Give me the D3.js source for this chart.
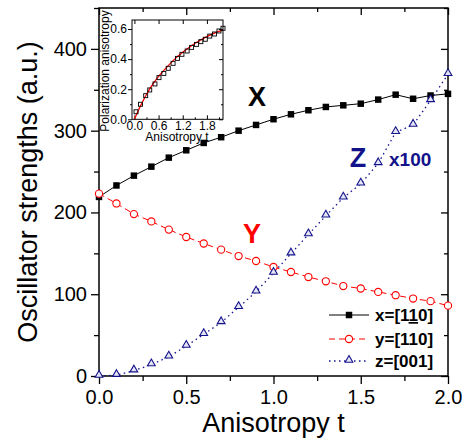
<!DOCTYPE html>
<html><head><meta charset="utf-8">
<script src="https://cdn.jsdelivr.net/npm/d3@7"></script>
<style>
html,body{margin:0;padding:0;background:#fff;}
svg{display:block;font-family:"Liberation Sans",Arial,sans-serif;}
</style></head>
<body><svg id="c" width="472" height="443"></svg>
<script>
// ---- data ----
const tValues = [0,0.1,0.2,0.3,0.4,0.5,0.6,0.7,0.8,0.9,1.0,1.1,1.2,1.3,1.4,1.5,1.6,1.7,1.8,1.9,2.0];
const xSeries = [219,233,245,256,267,276,285,292,300,307,314,320,325,329,331,333,338,344,339,343,345];
const ySeries = [223,211,198,189,179,170,162,154.5,146.7,140.6,133.3,127.2,121,115.8,110,107,102.8,98.8,94.7,91.5,86];
const zSeries = [0,1,6.5,14,23.5,36.6,51,65.5,84,103,126,149.6,173,196,218,235,260,298,307,337,369];
const xTicks = [0,0.5,1.0,1.5,2.0];
const xTickLabels = ["0.0","0.5","1.0","1.5","2.0"];
const yTicks = [0,100,200,300,400];
const legendLabels = ["x=[1", "y=[110]", "z=[001]"];
// inset
const insetT = [0.04,0.15,0.28,0.38,0.51,0.61,0.73,0.84,0.96,1.07,1.18,1.31,1.42,1.54,1.65,1.76,1.87,1.99,2.10,2.20];
const insetV = [0.05,0.10,0.157,0.195,0.235,0.277,0.305,0.339,0.372,0.405,0.432,0.454,0.478,0.498,0.516,0.532,0.553,0.567,0.587,0.605];
const fitT = [0,0.1,0.2,0.3,0.4,0.6,0.8,1.0,1.2,1.4,1.6,1.8,2.0,2.2];
const fitV = [0,0.06,0.115,0.165,0.21,0.285,0.345,0.40,0.445,0.485,0.52,0.55,0.575,0.595];
const insetXTicks = [0,0.6,1.2,1.8];
const insetXTickLabels = ["0.0","0.6","1.2","1.8"];
const insetYTicks = [0,0.2,0.4,0.6];
const insetYTickLabels = ["0.0","0.2","0.4","0.6"];

const svg = d3.select("#c");
const L=99, R=448, T=8, B=376;
const x = d3.scaleLinear().domain([0,2]).range([L,R]);
const y = d3.scaleLinear().domain([0,450]).range([B,T]);

const fmt = (labels, ticks) => (d)=> labels[ticks.indexOf(d)] ?? "";
function styleAxis(g, fs){
  g.select(".domain").remove();
  g.selectAll("line").attr("stroke","#000").attr("stroke-width",1.3);
  g.selectAll("text").attr("font-size",fs).attr("fill","#000").attr("font-family","Liberation Sans, Arial, sans-serif");
}
const minorX = d3.range(0,2.01,0.25).filter(v=>Math.abs(v*2-Math.round(v*2))>0.01);
const minorY = [50,150,250,350,450];
let g = svg.append("g").attr("transform",`translate(0,${B})`)
  .call(d3.axisBottom(x).tickValues(xTicks).tickFormat(fmt(xTickLabels,xTicks)).tickSize(8).tickPadding(6));
styleAxis(g,20);
svg.append("g").attr("transform",`translate(0,${B})`).call(d3.axisBottom(x).tickValues(minorX).tickFormat("").tickSize(5)).call(s=>styleAxis(s,0));
svg.append("g").attr("transform",`translate(0,${T})`).call(d3.axisBottom(x).tickValues(xTicks).tickFormat("").tickSize(7)).call(s=>styleAxis(s,0));
svg.append("g").attr("transform",`translate(0,${T})`).call(d3.axisBottom(x).tickValues(minorX).tickFormat("").tickSize(4)).call(s=>styleAxis(s,0));
g = svg.append("g").attr("transform",`translate(${L},0)`)
  .call(d3.axisLeft(y).tickValues(yTicks).tickFormat(d3.format("d")).tickSize(8).tickPadding(4));
styleAxis(g,20);
svg.append("g").attr("transform",`translate(${L},0)`).call(d3.axisLeft(y).tickValues(minorY).tickFormat("").tickSize(5)).call(s=>styleAxis(s,0));
svg.append("g").attr("transform",`translate(${R},0)`).call(d3.axisLeft(y).tickValues(yTicks).tickFormat("").tickSize(7)).call(s=>styleAxis(s,0));
svg.append("g").attr("transform",`translate(${R},0)`).call(d3.axisLeft(y).tickValues(minorY).tickFormat("").tickSize(4)).call(s=>styleAxis(s,0));
svg.append("rect").attr("x",L).attr("y",T).attr("width",R-L).attr("height",B-T)
  .attr("fill","none").attr("stroke","#000").attr("stroke-width",1.5);

svg.append("text").attr("x",(L+R)/2).attr("y",432).attr("text-anchor","middle")
  .attr("font-size",27).text("Anisotropy t");
svg.append("text").attr("transform",`translate(37,${(T+B)/2}) rotate(-90)`).attr("text-anchor","middle")
  .attr("font-size",27).text("Oscillator strengths (a.u.)");

const NAVY = "#12128a";
const line = (vals)=> d3.line().x((d,i)=>x(tValues[i])).y(d=>y(d))(vals);
svg.append("path").attr("d",line(xSeries)).attr("fill","none").attr("stroke","#000").attr("stroke-width",1);
svg.append("path").attr("d",line(ySeries)).attr("fill","none").attr("stroke","#ff0000").attr("stroke-width",1).attr("stroke-dasharray","6,4");
svg.append("path").attr("d",line(zSeries)).attr("fill","none").attr("stroke",NAVY).attr("stroke-width",1.3).attr("stroke-dasharray","1.5,3.5");

const sq = d3.symbol().type(d3.symbolSquare).size(42);
const tri = d3.symbol().type(d3.symbolTriangle).size(26);
svg.append("g").selectAll("path").data(xSeries).join("path")
  .attr("d",sq).attr("transform",(d,i)=>`translate(${x(tValues[i])},${y(d)})`).attr("fill","#000");
svg.append("g").selectAll("circle").data(ySeries).join("circle")
  .attr("cx",(d,i)=>x(tValues[i])).attr("cy",d=>y(d)).attr("r",3.6)
  .attr("fill","#fff").attr("stroke","#ff0000").attr("stroke-width",1.1);
svg.append("g").selectAll("path").data(zSeries).join("path")
  .attr("d",tri).attr("transform",(d,i)=>`translate(${x(tValues[i])},${y(d)-1})`)
  .attr("fill","#e4e4f4").attr("stroke",NAVY).attr("stroke-width",1.1);

svg.append("text").attr("x",257).attr("y",106).attr("text-anchor","middle").attr("font-size",27).attr("font-weight","bold").text("X");
svg.append("text").attr("x",252).attr("y",243).attr("text-anchor","middle").attr("font-size",27).attr("font-weight","bold").attr("fill","#ff0000").text("Y");
svg.append("text").attr("x",358).attr("y",167).attr("text-anchor","middle").attr("font-size",27).attr("font-weight","bold").attr("fill",NAVY).text("Z");
svg.append("text").attr("x",389).attr("y",166).attr("font-size",19).attr("font-weight","bold").attr("fill",NAVY).text("x100");

const legY = [315,339,361];
const lg = svg.append("g");
lg.append("line").attr("x1",329).attr("x2",369).attr("y1",legY[0]).attr("y2",legY[0]).attr("stroke","#000").attr("stroke-width",1);
lg.append("path").attr("d",sq).attr("transform",`translate(349,${legY[0]})`).attr("fill","#000");
lg.append("line").attr("x1",329).attr("x2",369).attr("y1",legY[1]).attr("y2",legY[1]).attr("stroke","#ff0000").attr("stroke-width",1).attr("stroke-dasharray","6,4");
lg.append("circle").attr("cx",349).attr("cy",legY[1]).attr("r",3.6).attr("fill","#fff").attr("stroke","#ff0000").attr("stroke-width",1.1);
lg.append("line").attr("x1",329).attr("x2",369).attr("y1",legY[2]).attr("y2",legY[2]).attr("stroke",NAVY).attr("stroke-width",1.3).attr("stroke-dasharray","1.5,3.5");
lg.append("path").attr("d",tri).attr("transform",`translate(349,${legY[2]-1})`).attr("fill","#e4e4f4").attr("stroke",NAVY).attr("stroke-width",1.1);
const t0 = lg.append("text").attr("x",375).attr("y",legY[0]+6).attr("font-size",17).attr("font-weight","bold");
t0.append("tspan").text(legendLabels[0]);
t0.append("tspan").attr("text-decoration","underline").text("1");
t0.append("tspan").text("0]");
lg.append("text").attr("x",375).attr("y",legY[1]+6).attr("font-size",17).attr("font-weight","bold").text(legendLabels[1]);
lg.append("text").attr("x",375).attr("y",legY[2]+6).attr("font-size",17).attr("font-weight","bold").text(legendLabels[2]);

// ---- inset ----
const iL=132, iR=223, iT=20, iB=119.3;
const xi = d3.scaleLinear().domain([-0.06,2.2]).range([iL,iR]);
const yi = d3.scaleLinear().domain([0,0.66]).range([iB,iT]);
const ins = svg.append("g");
ins.append("rect").attr("x",iL).attr("y",iT).attr("width",iR-iL).attr("height",iB-iT).attr("fill","#fff");
function styleI(s){ s.select(".domain").remove(); s.selectAll("line").attr("stroke","#000").attr("stroke-width",1);
  s.selectAll("text").attr("font-size",12).attr("fill","#000").attr("font-family","Liberation Sans, Arial, sans-serif"); }
const iMinorX=[0.3,0.9,1.5,2.1], iMinorY=[0.1,0.3,0.5];
ins.append("g").attr("transform",`translate(0,${iB})`).call(d3.axisBottom(xi).tickValues(insetXTicks).tickFormat(fmt(insetXTickLabels,insetXTicks)).tickSize(-4).tickPadding(2)).call(styleI);
ins.append("g").attr("transform",`translate(0,${iB})`).call(d3.axisBottom(xi).tickValues(iMinorX).tickFormat("").tickSize(-2)).call(styleI);
ins.append("g").attr("transform",`translate(0,${iT})`).call(d3.axisBottom(xi).tickValues(insetXTicks).tickFormat("").tickSize(4)).call(styleI);
ins.append("g").attr("transform",`translate(${iL},0)`).call(d3.axisLeft(yi).tickValues(insetYTicks).tickFormat(fmt(insetYTickLabels,insetYTicks)).tickSize(4).tickPadding(1)).call(styleI);
ins.append("g").attr("transform",`translate(${iL},0)`).call(d3.axisLeft(yi).tickValues(iMinorY).tickFormat("").tickSize(2)).call(styleI);
ins.append("g").attr("transform",`translate(${iR},0)`).call(d3.axisLeft(yi).tickValues(insetYTicks).tickFormat("").tickSize(4)).call(styleI);
ins.append("g").attr("transform",`translate(${iR},0)`).call(d3.axisLeft(yi).tickValues(iMinorY).tickFormat("").tickSize(2)).call(styleI);
ins.append("path").attr("d",d3.line().x((d,i)=>xi(fitT[i])).y(d=>yi(d)).curve(d3.curveMonotoneX)(fitV))
  .attr("fill","none").attr("stroke","#ff0000").attr("stroke-width",1.3);
ins.append("g").selectAll("rect").data(insetV).join("rect")
  .attr("x",(d,i)=>xi(insetT[i])-2).attr("y",d=>yi(d)-2).attr("width",4).attr("height",4)
  .attr("fill","none").attr("stroke","#000").attr("stroke-width",0.9);
ins.append("rect").attr("x",iL).attr("y",iT).attr("width",iR-iL).attr("height",iB-iT).attr("fill","none").attr("stroke","#000").attr("stroke-width",1);
ins.append("text").attr("x",177).attr("y",141).attr("text-anchor","middle").attr("font-size",12).text("Anisotropy t");
ins.append("text").attr("transform",`translate(109,71) rotate(-90)`).attr("text-anchor","middle").attr("font-size",12).text("Polarization anisotropy");
</script></body></html>
